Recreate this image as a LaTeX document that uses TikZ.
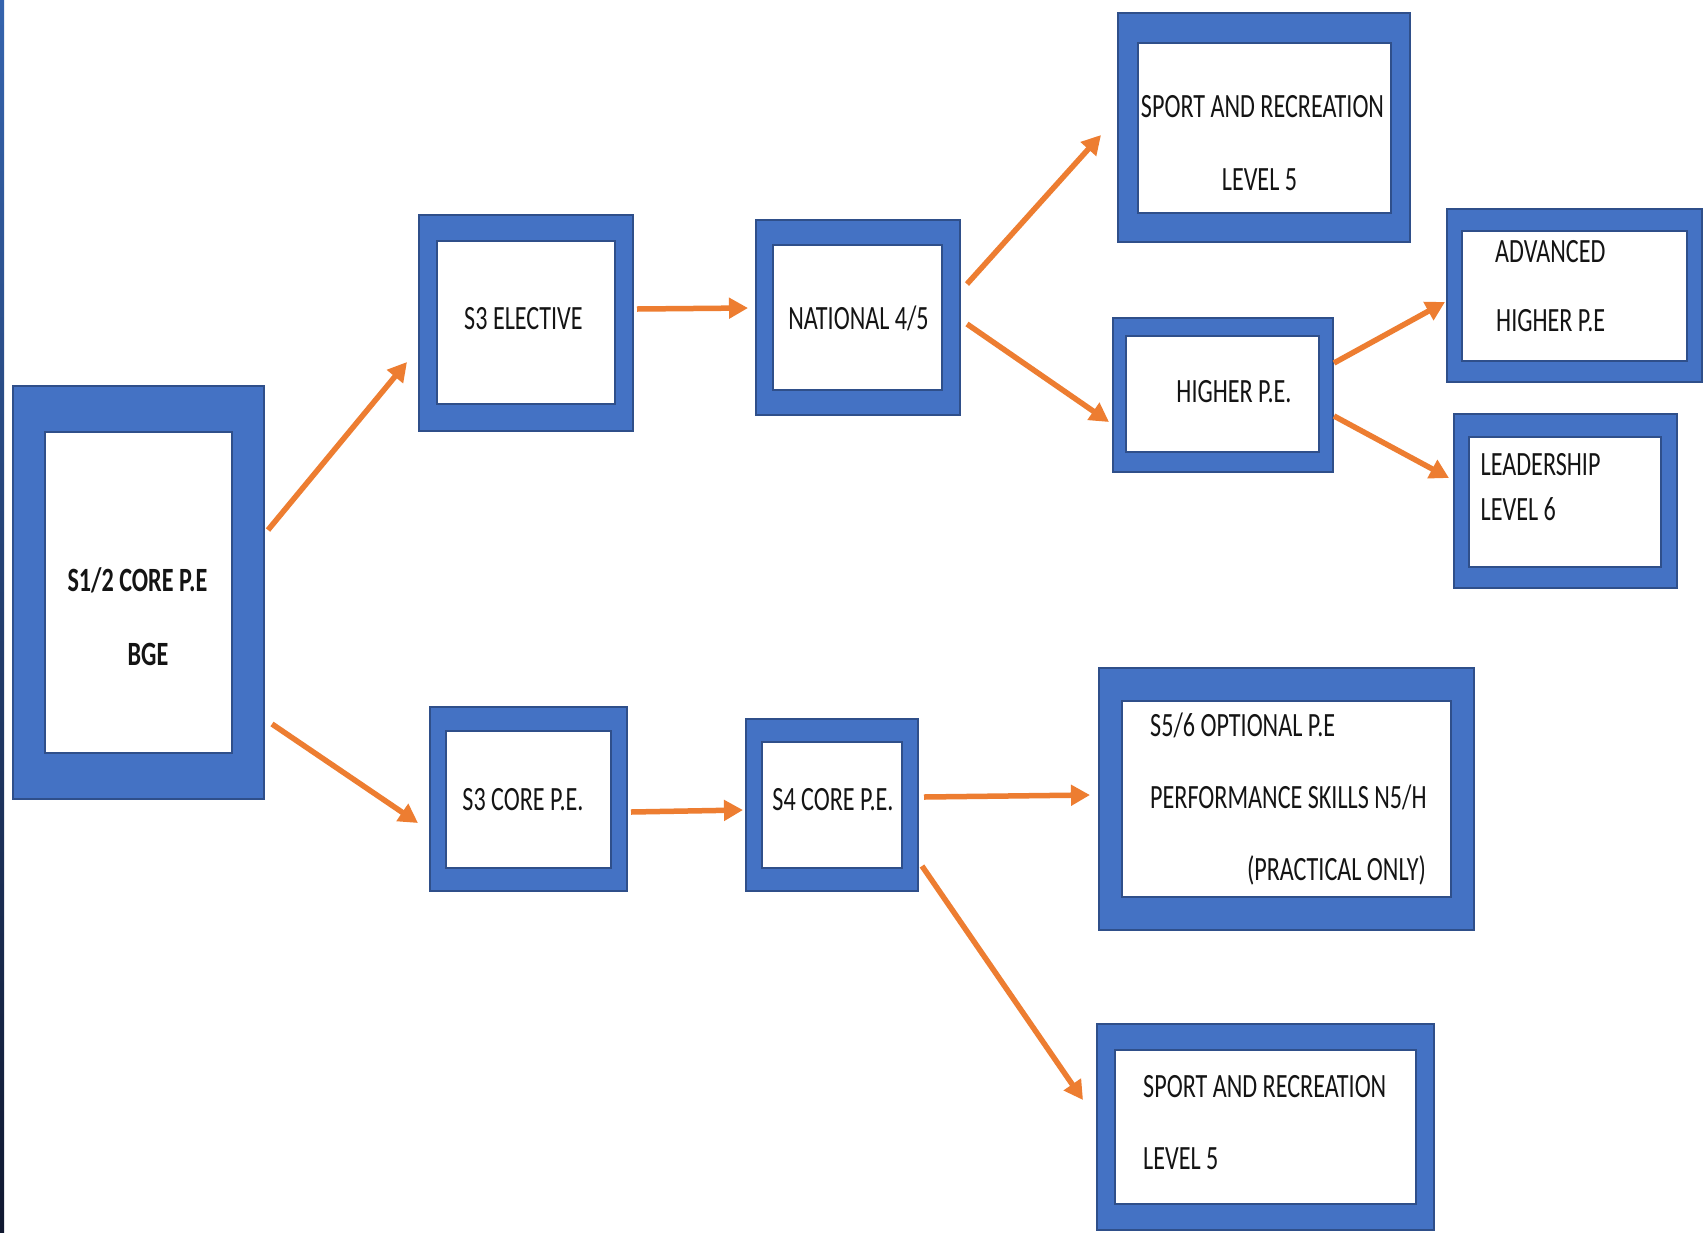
\documentclass[tikz,border=0pt]{standalone}
\usepackage{fontspec}
\setmainfont{Carlito}[FakeStretch=0.71]
\usetikzlibrary{arrows.meta,fit}
\definecolor{peblue}{HTML}{4472C4}
\definecolor{boxline}{HTML}{2F4F8A}
\definecolor{arrorange}{HTML}{ED7D31}
\definecolor{striptop}{HTML}{3564AE}
\definecolor{stripbot}{HTML}{101830}
\tikzset{
  outerbox/.style={draw=boxline, fill=peblue, line width=2pt, inner sep=0pt, outer sep=0pt},
  innerbox/.style={draw=boxline, fill=white, line width=2pt, inner sep=0pt, outer sep=0pt},
  lbl/.style={inner sep=0pt, text=black!92, font=\fontsize{34}{40}\selectfont, text height=22pt, text depth=0pt},
  blbl/.style={lbl, font=\fontsize{34}{40}\selectfont\bfseries},
  arr/.style={draw=arrorange, line width=5.5pt, -{Triangle[length=19pt,width=20pt]}}
}
\begin{document}
\begin{tikzpicture}[x=1pt,y=-1pt]
\useasboundingbox (0,0) rectangle (1704,1232);
\fill[white] (0,0) rectangle (1704,1232);
\shade[top color=striptop, bottom color=stripbot] (0,0) rectangle (4,1232);

% boxes
\node[outerbox, fit={(13,386)(264,799)}] (s12) {};
\node[innerbox, fit={(45,432)(232,753)}] (s12i) {};
\node[outerbox, fit={(419,215)(633,431)}] (s3e) {};
\node[innerbox, fit={(437,241)(615,404)}] (s3ei) {};
\node[outerbox, fit={(756,220)(960,415)}] (n45) {};
\node[innerbox, fit={(773,245)(942,390)}] (n45i) {};
\node[outerbox, fit={(1118,13)(1410,242)}] (sr1) {};
\node[innerbox, fit={(1138,43)(1391,213)}] (sr1i) {};
\node[outerbox, fit={(1113,318)(1333,472)}] (hpe) {};
\node[innerbox, fit={(1126,336)(1319,452)}] (hpei) {};
\node[outerbox, fit={(1447,209)(1702,382)}] (adv) {};
\node[innerbox, fit={(1462,231)(1687,361)}] (advi) {};
\node[outerbox, fit={(1454,414)(1677,588)}] (lead) {};
\node[innerbox, fit={(1469,437)(1661,567)}] (leadi) {};
\node[outerbox, fit={(430,707)(627,891)}] (s3c) {};
\node[innerbox, fit={(446,731)(611,868)}] (s3ci) {};
\node[outerbox, fit={(746,719)(918,891)}] (s4c) {};
\node[innerbox, fit={(762,742)(902,868)}] (s4ci) {};
\node[outerbox, fit={(1099,668)(1474,930)}] (s56) {};
\node[innerbox, fit={(1122,701)(1451,897)}] (s56i) {};
\node[outerbox, fit={(1097,1024)(1434,1230)}] (sr2) {};
\node[innerbox, fit={(1115,1050)(1416,1204)}] (sr2i) {};

% labels
\node[blbl] (t1a) at (137.5,580) {S1/2 CORE P.E};
\node[blbl] (t1b) at (148,654) {BGE};
\node[lbl] (t2) at (523.5,318) {S3 ELECTIVE};
\node[lbl] (t3) at (858.5,318) {NATIONAL 4/5};
\node[lbl] (t4a) at (1262.5,106) {SPORT AND RECREATION};
\node[lbl] (t4b) at (1259.5,179) {LEVEL 5};
\node[lbl] (t5) at (1234,391) {HIGHER P.E.};
\node[lbl, anchor=west] (t6a) at (1495,251) {ADVANCED};
\node[lbl, anchor=west] (t6b) at (1496,320) {HIGHER P.E};
\node[lbl, anchor=west] (t7a) at (1480.5,464) {LEADERSHIP};
\node[lbl, anchor=west] (t7b) at (1480.5,509) {LEVEL 6};
\node[lbl] (t8) at (523,799) {S3 CORE P.E.};
\node[lbl] (t9) at (833,799) {S4 CORE P.E.};
\node[lbl, anchor=west] (t10a) at (1150,725) {S5/6 OPTIONAL P.E};
\node[lbl, anchor=west] (t10b) at (1150,797) {PERFORMANCE SKILLS N5/H};
\node[lbl, anchor=east] (t10c) at (1426,869) {(PRACTICAL ONLY)};
\node[lbl, anchor=west] (t11a) at (1143,1086) {SPORT AND RECREATION};
\node[lbl, anchor=west] (t11b) at (1143,1158) {LEVEL 5};

% connector end points
\coordinate (a1s) at (268,530);  \coordinate (a1e) at (407,362);
\coordinate (a2s) at (272,724);  \coordinate (a2e) at (418,823);
\coordinate (a3s) at (637,309);  \coordinate (a3e) at (748,308);
\coordinate (a4s) at (967,284);  \coordinate (a4e) at (1101,135);
\coordinate (a5s) at (967,324);  \coordinate (a5e) at (1109,422);
\coordinate (a6s) at (1334,363); \coordinate (a6e) at (1445,302);
\coordinate (a7s) at (1334,416); \coordinate (a7e) at (1449,478);
\coordinate (a8s) at (631,812);  \coordinate (a8e) at (743,810);
\coordinate (a9s) at (924,797);  \coordinate (a9e) at (1090,795);
\coordinate (a10s) at (922,866); \coordinate (a10e) at (1083,1100);

\draw[arr] (a1s) -- (a1e);
\draw[arr] (a2s) -- (a2e);
\draw[arr] (a3s) -- (a3e);
\draw[arr] (a4s) -- (a4e);
\draw[arr] (a5s) -- (a5e);
\draw[arr] (a6s) -- (a6e);
\draw[arr] (a7s) -- (a7e);
\draw[arr] (a8s) -- (a8e);
\draw[arr] (a9s) -- (a9e);
\draw[arr] (a10s) -- (a10e);
\end{tikzpicture}
\end{document}
